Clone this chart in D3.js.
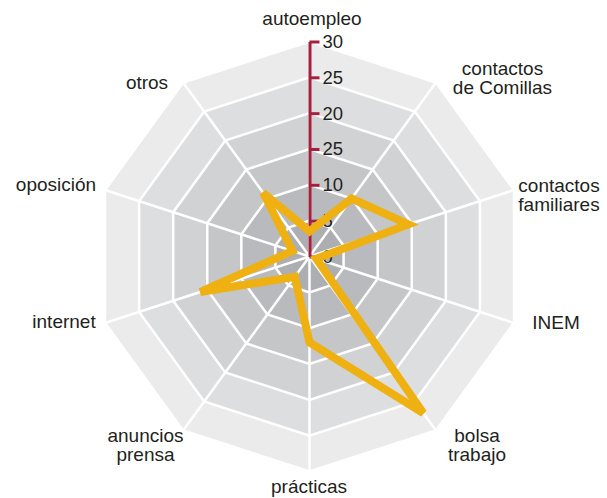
<!DOCTYPE html>
<html>
<head>
<meta charset="utf-8">
<script src="https://cdn.jsdelivr.net/npm/d3@7"></script>
<style>
  body { margin: 0; background: #fff; }
  text { font-family: "Liberation Sans", Arial, Helvetica, sans-serif; fill: #231f20; }
</style>
</head>
<body>
<div id="radar"></div>
<script>
// chart data
var categories = ["autoempleo", "contactos\nde Comillas", "contactos\nfamiliares", "INEM",
  "bolsa\ntrabajo", "prácticas", "anuncios\nprensa", "internet", "oposición", "otros"];
var values = [3.5, 10, 14.5, 1, 27, 12, 3.5, 16, 2.5, 11];
var tickValues = [0, 5, 10, 15, 20, 25, 30];
var tickLabels = ["0", "5", "10", "25", "20", "25", "30"];

// layout: label block centres relative to chart centre
var labelOffsets = [[2.5, -238.5], [193, -178.5], [249.5, -61.5], [246.5, 65.5], [167.5, 188.5],
  [-0.5, 229.5], [-164, 188.5], [-245.5, 64.5], [-253.5, -72.5], [-162.5, -174.5]];
var bandColors = ["#adaeb1", "#b9babd", "#c5c6c8", "#d1d2d4", "#dddedf", "#ebebeb"];

// define svg area
var svgWidth = 607;
var svgHeight = 498;
var cx = 309.5;
var cy = 256.5;
var radius = 215;
var lineHeight = 18.5;

var svg = d3.select("#radar")
  .append("svg")
  .attr("width", svgWidth)
  .attr("height", svgHeight);

var chartGroup = svg.append("g")
  .attr("transform", `translate(${cx}, ${cy})`);

var rScale = d3.scaleLinear()
  .domain([0, 30])
  .range([0, radius]);

var angleStep = 2 * Math.PI / categories.length;

// ring polygons, outer first so inner ones sit on top
var ringLine = d3.lineRadial()
  .angle((d, i) => i * angleStep)
  .radius(d => d)
  .curve(d3.curveLinearClosed);

var rings = tickValues.slice(1).reverse();
chartGroup.selectAll(".band")
  .data(rings)
  .enter()
  .append("path")
  .attr("class", "band")
  .attr("d", v => ringLine(categories.map(() => rScale(v))))
  .attr("fill", (v, i) => bandColors[bandColors.length - 1 - i])
  .attr("stroke", "#fff")
  .attr("stroke-width", 2.5)
  .attr("stroke-linejoin", "miter");

// spokes
chartGroup.selectAll(".spoke")
  .data(categories)
  .enter()
  .append("line")
  .attr("class", "spoke")
  .attr("x1", 0)
  .attr("y1", 0)
  .attr("x2", (d, i) => rScale(30) * Math.sin(i * angleStep))
  .attr("y2", (d, i) => -rScale(30) * Math.cos(i * angleStep))
  .attr("stroke", "#fff")
  .attr("stroke-width", 2.5);

// vertical value axis
var axisScale = d3.scaleLinear()
  .domain([0, 30])
  .range([0, -radius]);

var valueAxis = d3.axisRight(axisScale)
  .tickValues(tickValues)
  .tickFormat((d, i) => tickLabels[i])
  .tickSize(10)
  .tickSizeOuter(0)
  .tickPadding(3);

var axisGroup = chartGroup.append("g")
  .call(valueAxis);

axisGroup.select(".domain")
  .attr("stroke", "#a61f3f")
  .attr("stroke-width", 3);
axisGroup.selectAll(".tick line")
  .attr("stroke", "#a61f3f")
  .attr("stroke-width", 3);
axisGroup.selectAll(".tick text")
  .attr("fill", "#231f20")
  .style("font-size", "18.5px")
  .style("font-family", "'Liberation Sans', Arial, sans-serif");

// data line
var dataLine = d3.lineRadial()
  .angle((d, i) => i * angleStep)
  .radius(d => rScale(d))
  .curve(d3.curveLinearClosed);

chartGroup.append("path")
  .attr("d", dataLine(values))
  .attr("fill", "none")
  .attr("stroke", "#eeb111")
  .attr("stroke-width", 8)
  .attr("stroke-linejoin", "miter")
  .attr("stroke-miterlimit", 4);

// category labels
var labels = chartGroup.selectAll(".cat-label")
  .data(categories)
  .enter()
  .append("text")
  .attr("class", "cat-label")
  .attr("text-anchor", "middle")
  .style("font-size", "19px");

labels.each(function(d, i) {
  var lines = d.split("\n");
  var x = labelOffsets[i][0];
  var y0 = labelOffsets[i][1] - (lines.length - 1) * lineHeight / 2 + 6.5;
  d3.select(this).selectAll("tspan")
    .data(lines)
    .enter()
    .append("tspan")
    .attr("x", x)
    .attr("y", (t, j) => y0 + j * lineHeight)
    .text(t => t);
});
</script>
</body>
</html>
